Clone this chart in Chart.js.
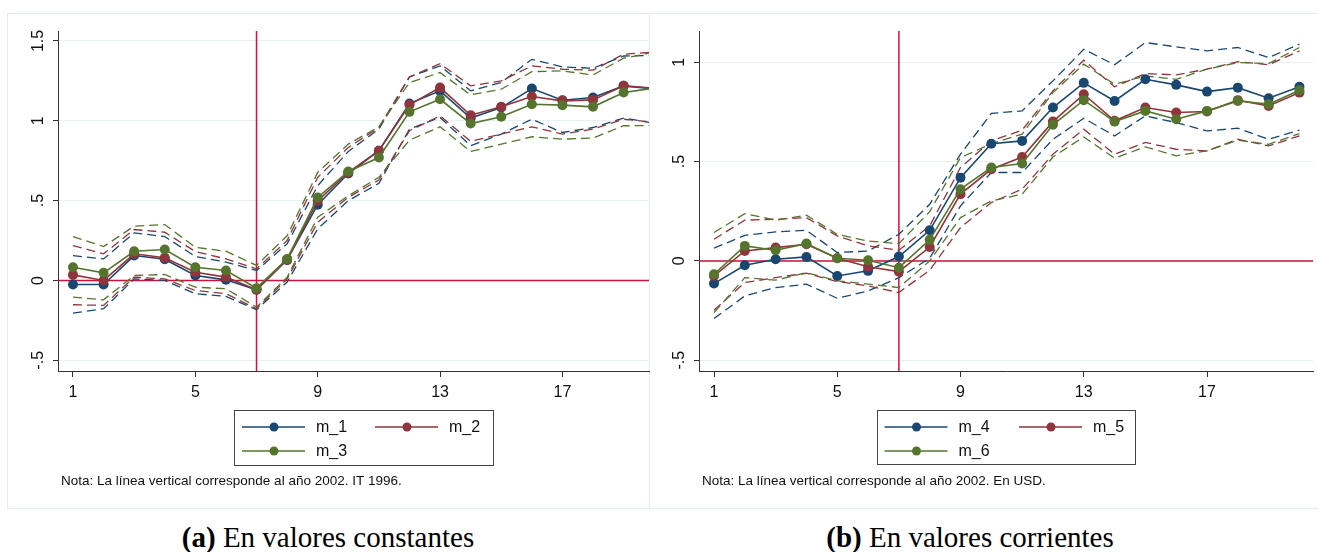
<!DOCTYPE html>
<html>
<head>
<meta charset="utf-8">
<script src="https://cdn.jsdelivr.net/npm/chart.js@4.4.1/dist/chart.umd.min.js"></script>
<style>
    body { margin: 0; background: #fff; width: 1318px; height: 552px; position: relative; overflow: hidden; }
    canvas { position: absolute; top: 0; }
    .frame { position: absolute; background: #e3eded; }
    .caption { position: absolute; top: 520px; width: 400px; text-align: center; font-family: 'Liberation Serif', 'Times New Roman', serif; font-size: 29px; line-height: 34px; color: #000; white-space: nowrap; }
</style>
</head>
<body>
<div class="frame" style="left:7px; top:13px; width:1311px; height:1px;"></div>
<div class="frame" style="left:7px; top:508px; width:1311px; height:1px;"></div>
<div class="frame" style="left:7px; top:13px; width:1px; height:496px;"></div>
<div class="frame" style="left:649px; top:13px; width:1px; height:496px;"></div>
<canvas id="chart-a" width="655" height="510" style="left:0px;"></canvas>
<canvas id="chart-b" width="663" height="510" style="left:655px;"></canvas>
<div class="caption" style="left:128px;"><b>(a)</b> En valores constantes</div>
<div class="caption" style="left:770px;"><b>(b)</b> En valores corrientes</div>
<script>
const periods = [1, 2, 3, 4, 5, 6, 7, 8, 9, 10, 11, 12, 13, 14, 15, 16, 17, 18, 19, 20];
const xTicks = [1, 5, 9, 13, 17];
const yTicksA = [-0.5, 0, 0.5, 1, 1.5];
const yTicksB = [-0.5, 0, 0.5, 1];

// (a) valores constantes
const m1 = [-0.025, -0.025, 0.156, 0.133, 0.031, 0.004, -0.058, 0.129, 0.475, 0.67, 0.8125, 1.108, 1.1875, 1.017, 1.083, 1.202, 1.129, 1.146, 1.219, 1.20];
const m1Lo = [-0.204, -0.177, 0.01, 0.0, -0.083, -0.1, -0.183, -0.01, 0.323, 0.5, 0.608, 0.948, 1.021, 0.844, 0.917, 1.01, 0.927, 0.958, 1.017, 0.985];
const m1Hi = [0.156, 0.135, 0.298, 0.275, 0.15, 0.115, 0.0625, 0.229, 0.594, 0.808, 0.948, 1.275, 1.344, 1.1875, 1.24, 1.385, 1.3375, 1.329, 1.406, 1.41];
const m2 = [0.035, 0.0, 0.167, 0.142, 0.052, 0.021, -0.058, 0.129, 0.50, 0.677, 0.8125, 1.10, 1.208, 1.035, 1.0875, 1.152, 1.125, 1.131, 1.219, 1.205];
const m2Lo = [-0.152, -0.156, 0.021, 0.01, -0.0625, -0.083, -0.177, 0.01, 0.365, 0.521, 0.629, 0.9375, 1.031, 0.871, 0.917, 0.9625, 0.917, 0.948, 1.01, 0.99];
const m2Hi = [0.219, 0.167, 0.319, 0.302, 0.181, 0.135, 0.073, 0.25, 0.646, 0.833, 0.958, 1.275, 1.358, 1.219, 1.25, 1.344, 1.323, 1.317, 1.417, 1.43];
const m3 = [0.083, 0.048, 0.183, 0.194, 0.083, 0.0625, -0.048, 0.135, 0.52, 0.683, 0.77, 1.056, 1.135, 0.983, 1.025, 1.104, 1.098, 1.0875, 1.177, 1.205];
const m3Lo = [-0.104, -0.121, 0.031, 0.0375, -0.042, -0.052, -0.167, 0.02, 0.396, 0.531, 0.646, 0.879, 0.9625, 0.808, 0.854, 0.9, 0.885, 0.892, 0.969, 0.97];
const m3Hi = [0.275, 0.2125, 0.34, 0.35, 0.208, 0.183, 0.094, 0.28, 0.677, 0.854, 0.9625, 1.24, 1.302, 1.1625, 1.198, 1.308, 1.3125, 1.2875, 1.392, 1.43];

// (b) valores corrientes
const m4 = [-0.114, -0.022, 0.008, 0.02, -0.0755, -0.05, 0.022, 0.154, 0.419, 0.59, 0.604, 0.772, 0.896, 0.805, 0.914, 0.886, 0.852, 0.872, 0.819, 0.876];
const m4Lo = [-0.29, -0.176, -0.134, -0.117, -0.188, -0.151, -0.084, 0.013, 0.277, 0.445, 0.445, 0.612, 0.718, 0.629, 0.73, 0.696, 0.654, 0.668, 0.612, 0.658];
const m4Hi = [0.064, 0.129, 0.146, 0.154, 0.042, 0.05, 0.134, 0.285, 0.537, 0.742, 0.755, 0.906, 1.065, 0.987, 1.099, 1.077, 1.057, 1.074, 1.023, 1.091];
const m5 = [-0.0755, 0.05, 0.067, 0.084, 0.013, -0.029, -0.054, 0.07, 0.336, 0.461, 0.523, 0.701, 0.839, 0.705, 0.772, 0.747, 0.752, 0.809, 0.78, 0.847];
const m5Lo = [-0.248, -0.109, -0.084, -0.062, -0.104, -0.126, -0.159, -0.047, 0.168, 0.294, 0.361, 0.537, 0.663, 0.537, 0.596, 0.562, 0.554, 0.612, 0.579, 0.629];
const m5Hi = [0.109, 0.205, 0.21, 0.218, 0.126, 0.0755, 0.054, 0.176, 0.47, 0.604, 0.658, 0.856, 1.01, 0.876, 0.943, 0.936, 0.965, 1.003, 0.987, 1.057];
const m6 = [-0.067, 0.0755, 0.054, 0.087, 0.013, 0.003, -0.034, 0.106, 0.361, 0.47, 0.49, 0.685, 0.809, 0.701, 0.755, 0.713, 0.755, 0.805, 0.789, 0.859];
const m6Lo = [-0.26, -0.084, -0.097, -0.059, -0.1, -0.117, -0.134, 0.0, 0.218, 0.302, 0.336, 0.523, 0.624, 0.517, 0.574, 0.529, 0.554, 0.607, 0.587, 0.641];
const m6Hi = [0.143, 0.238, 0.205, 0.23, 0.134, 0.1, 0.087, 0.248, 0.52, 0.59, 0.638, 0.847, 0.99, 0.889, 0.931, 0.914, 0.965, 0.998, 0.993, 1.074];

const navy = `#1a476f`;
const maroon = `#90353b`;
const green = `#55752f`;
const crimson = `#d0103a`;
const font = `'Liberation Sans', Arial, sans-serif`;

function points(values) {
    return values.map((v, i) => ({ x: periods[i], y: v }));
}

function solidSet(label, values, color, order) {
    return {
        label: label,
        data: points(values),
        borderColor: color,
        backgroundColor: color,
        borderWidth: 1.6,
        pointRadius: 5,
        pointBorderWidth: 0,
        pointHoverRadius: 5,
        tension: 0,
        order: order
    };
}

function dashedSet(values, color, order) {
    return {
        label: ``,
        data: points(values),
        borderColor: color,
        borderWidth: 1.3,
        borderDash: [9, 5],
        pointRadius: 0,
        tension: 0,
        order: order
    };
}

function stataLabel(v) {
    if (v === 0) return `0`;
    let s = String(v);
    return s.replace(`0.`, `.`);
}

// red reference lines, y labels, legend box and note
function extrasPlugin(cfg) {
    return {
        id: `extras`,
        beforeDatasetsDraw(chart) {
            const ctx = chart.ctx;
            const area = chart.chartArea;
            const xs = chart.scales.x;
            const ys = chart.scales.y;
            ctx.save();
            ctx.strokeStyle = crimson;
            ctx.lineWidth = 1.5;
            ctx.beginPath();
            const y0 = ys.getPixelForValue(0);
            ctx.moveTo(area.left, y0);
            ctx.lineTo(area.right, y0);
            const x7 = xs.getPixelForValue(7);
            ctx.moveTo(x7, area.top);
            ctx.lineTo(x7, area.bottom);
            ctx.stroke();
            ctx.restore();
        },
        afterDraw(chart) {
            const ctx = chart.ctx;
            const area = chart.chartArea;
            const ys = chart.scales.y;
            ctx.save();
            ctx.fillStyle = `#111`;
            ctx.font = `16px ${font}`;
            cfg.yTicks.forEach(v => {
                const y = ys.getPixelForValue(v);
                ctx.save();
                ctx.translate(area.left - 15, y);
                ctx.rotate(-Math.PI / 2);
                ctx.textAlign = `center`;
                ctx.textBaseline = `alphabetic`;
                ctx.fillText(stataLabel(v), 0, 0);
                ctx.restore();
            });

            const lg = cfg.legend;
            ctx.strokeStyle = `#444`;
            ctx.lineWidth = 1;
            ctx.strokeRect(lg.left + 0.5, lg.top + 0.5, lg.width, lg.height);
            lg.items.forEach(item => {
                ctx.strokeStyle = item.color;
                ctx.lineWidth = 1.5;
                ctx.beginPath();
                ctx.moveTo(item.x, item.y);
                ctx.lineTo(item.x + 63, item.y);
                ctx.stroke();
                ctx.fillStyle = item.color;
                ctx.beginPath();
                ctx.arc(item.x + 32, item.y, 4.5, 0, Math.PI * 2);
                ctx.fill();
                ctx.fillStyle = `#111`;
                ctx.textAlign = `left`;
                ctx.textBaseline = `middle`;
                ctx.font = `16px ${font}`;
                ctx.fillText(item.label, item.x + 74, item.y + 1);
            });

            ctx.fillStyle = `#111`;
            ctx.font = `13.5px ${font}`;
            ctx.textAlign = `left`;
            ctx.textBaseline = `alphabetic`;
            ctx.fillText(cfg.note, cfg.noteX, 485);
            ctx.restore();
        }
    };
}

function drawPanel(canvasId, sets, cfg) {
    const ctx = document.querySelector(`#${canvasId}`).getContext(`2d`);
    const { labels, mids, los, his } = sets;
    const colors = [navy, maroon, green];
    const datasets = [];
    for (let i = 0; i < 3; i++) {
        datasets.push(solidSet(labels[i], mids[i], colors[i], 3 - i));
    }
    for (let i = 0; i < 3; i++) {
        datasets.push(dashedSet(los[i], colors[i], 10 - i));
        datasets.push(dashedSet(his[i], colors[i], 10 - i));
    }

    return new Chart(ctx, {
        type: `line`,
        data: { datasets: datasets },
        options: {
            responsive: false,
            animation: false,
            events: [],
            layout: {
                padding: { left: 0, top: 31, right: cfg.padRight, bottom: 99 }
            },
            plugins: {
                legend: { display: false },
                tooltip: { enabled: false }
            },
            scales: {
                x: {
                    type: `linear`,
                    min: cfg.xMin,
                    max: cfg.xMax,
                    afterBuildTicks: scale => {
                        scale.ticks = xTicks.map(v => ({ value: v }));
                    },
                    afterFit: scale => { scale.height = 40; },
                    grid: { drawOnChartArea: false, tickLength: 6, tickColor: `#333` },
                    border: { color: `#333`, width: 1 },
                    ticks: {
                        color: `#111`,
                        font: { family: font, size: 16 },
                        padding: 6,
                        maxRotation: 0,
                        callback: v => `${v}`
                    }
                },
                y: {
                    type: `linear`,
                    min: cfg.yMin,
                    max: cfg.yMax,
                    afterBuildTicks: scale => {
                        scale.ticks = cfg.yTicks.map(v => ({ value: v }));
                    },
                    afterFit: scale => { scale.width = cfg.yWidth; },
                    grid: { color: `#e8f0f1`, lineWidth: 1, tickLength: 5, tickColor: `#333` },
                    border: { color: `#333`, width: 1 },
                    ticks: { display: false }
                }
            }
        },
        plugins: [extrasPlugin(cfg)]
    });
}

drawPanel(`chart-a`, {
    labels: [`m_1`, `m_2`, `m_3`],
    mids: [m1, m2, m3],
    los: [m1Lo, m2Lo, m3Lo],
    his: [m1Hi, m2Hi, m3Hi]
}, {
    xMin: 0.51, xMax: 19.83, yMin: -0.567, yMax: 1.5625,
    yTicks: yTicksA, yWidth: 58, padRight: 6,
    note: `Nota: La línea vertical corresponde al año 2002. IT 1996.`,
    noteX: 61,
    legend: {
        left: 234, top: 410, width: 259, height: 55,
        items: [
            { label: `m_1`, color: navy, x: 242, y: 427 },
            { label: `m_2`, color: maroon, x: 375, y: 427 },
            { label: `m_3`, color: green, x: 242, y: 451 }
        ]
    }
});

drawPanel(`chart-b`, {
    labels: [`m_4`, `m_5`, `m_6`],
    mids: [m4, m5, m6],
    los: [m4Lo, m5Lo, m6Lo],
    his: [m4Hi, m5Hi, m6Hi]
}, {
    xMin: 0.513, xMax: 20.44, yMin: -0.554, yMax: 1.157,
    yTicks: yTicksB, yWidth: 44, padRight: 5,
    note: `Nota: La línea vertical corresponde al año 2002. En USD.`,
    noteX: 47,
    legend: {
        left: 222, top: 410, width: 258, height: 54,
        items: [
            { label: `m_4`, color: navy, x: 229.5, y: 427 },
            { label: `m_5`, color: maroon, x: 364, y: 427 },
            { label: `m_6`, color: green, x: 229.5, y: 451 }
        ]
    }
});
</script>
</body>
</html>
